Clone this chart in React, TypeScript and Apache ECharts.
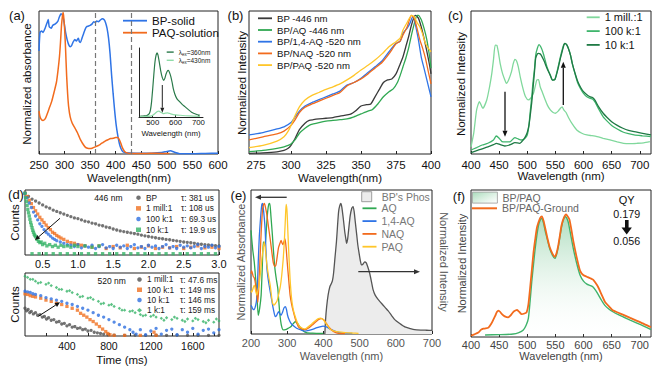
import React, { useEffect, useRef } from "react";
import * as echarts from "echarts";

const FONT = '"Liberation Sans", Arial, Helvetica, sans-serif';

// ---------- (a) absorbance ----------
const aBPsolid = [[250,0.72],[252,0.85],[255,0.86],[258,0.85],[262,0.88],[266,0.92],[268,0.94],[270,0.89],[274,0.88],[277,0.9],[282,0.91],[287,0.93],[290,0.96],[293,0.98],[296,0.97],[299,0.92],[302,0.85],[305,0.8],[308,0.765],[311,0.75],[314,0.76],[317,0.785],[320,0.8],[323,0.79],[325,0.8],[327,0.81],[329,0.785],[331,0.78],[334,0.81],[337,0.84],[340,0.87],[343,0.89],[347,0.895],[350,0.9],[354,0.91],[357,0.925],[360,0.92],[363,0.93],[366,0.925],[370,0.937],[374,0.945],[377,0.94],[380,0.92],[383,0.88],[386,0.81],[389,0.7],[392,0.55],[395,0.42],[398,0.3],[401,0.2],[404,0.13],[407,0.075],[410,0.04],[414,0.016],[420,0.008],[440,0.005],[470,0.006],[490,0.01],[500,0.018],[507,0.022],[515,0.012],[525,0.002],[550,0.001],[575,0.004],[600,0.006]];
const aPAQsol = [[250,0.3],[252,0.26],[255,0.24],[258,0.235],[262,0.245],[266,0.28],[270,0.32],[275,0.37],[280,0.44],[284,0.5],[287,0.58],[290,0.68],[292,0.78],[294,0.9],[296,0.97],[297,0.99],[298,0.97],[300,0.88],[302,0.73],[304,0.55],[306,0.42],[308,0.33],[311,0.26],[315,0.215],[319,0.19],[322,0.17],[325,0.15],[328,0.125],[331,0.1],[335,0.075],[340,0.05],[345,0.04],[350,0.038],[355,0.042],[360,0.05],[365,0.058],[370,0.068],[375,0.08],[380,0.092],[385,0.1],[390,0.108],[395,0.11],[400,0.115],[404,0.115],[407,0.1],[410,0.075],[413,0.045],[417,0.02],[422,0.008],[430,0.003],[460,0.004],[480,0.006],[500,0.004],[505,0.003]];
const aGuideLines = [360, 430];
const aInset360 = [[444,0.01],[460,0.015],[474,0.02],[485,0.05],[490,0.1],[495,0.22],[500,0.41],[505,0.62],[510,0.8],[515,0.9],[519,0.93],[523,0.9],[529,0.79],[535,0.67],[542,0.57],[548,0.53],[553,0.56],[558,0.62],[563,0.66],[568,0.675],[573,0.65],[579,0.59],[585,0.5],[590,0.41],[597,0.33],[605,0.27],[612,0.24],[619,0.22],[630,0.18],[641,0.15],[655,0.11],[670,0.07],[690,0.04],[707,0.025]];
const aInset430 = [[444,0.005],[470,0.008],[490,0.012],[500,0.025],[510,0.05],[520,0.08],[527,0.085],[535,0.07],[545,0.05],[555,0.055],[565,0.06],[575,0.05],[590,0.035],[620,0.025],[660,0.015],[707,0.01]];
const insetTicks = [500, 600, 700];

// ---------- (b) excitation ----------
const bBP = [[270,0.005],[280,0.008],[290,0.015],[295,0.025],[298,0.04],[300,0.06],[303,0.11],[306,0.17],[310,0.215],[313,0.235],[316,0.24],[320,0.245],[325,0.25],[330,0.255],[335,0.265],[340,0.273],[343,0.28],[346,0.3],[350,0.336],[354,0.345],[357,0.35],[360,0.4],[363,0.45],[366,0.5],[369,0.518],[372,0.525],[375,0.56],[378,0.63],[380,0.68],[382,0.75],[384,0.82],[386,0.9],[388,0.96],[389,0.97],[391,0.95],[393,0.89],[395,0.81],[397,0.72],[399,0.62],[400,0.56]];
const bAQ = [[270,0.016],[280,0.025],[290,0.04],[295,0.05],[298,0.06],[300,0.07],[303,0.1],[306,0.145],[310,0.18],[313,0.2],[316,0.21],[320,0.22],[325,0.23],[330,0.235],[335,0.24],[340,0.245],[345,0.26],[350,0.28],[355,0.3],[358,0.31],[362,0.35],[366,0.4],[370,0.436],[373,0.455],[376,0.5],[378,0.55],[380,0.61],[382,0.67],[384,0.74],[386,0.83],[388,0.91],[390,0.97],[391,0.97],[393,0.94],[395,0.88],[397,0.8],[399,0.68],[400,0.6]];
const b14AQ = [[270,0.133],[280,0.15],[290,0.175],[295,0.19],[300,0.22],[303,0.26],[306,0.3],[310,0.336],[315,0.36],[320,0.38],[325,0.4],[330,0.42],[335,0.44],[340,0.483],[345,0.5],[350,0.53],[355,0.57],[360,0.61],[365,0.65],[370,0.715],[375,0.774],[378,0.79],[380,0.845],[383,0.88],[385,0.915],[387,0.96],[388,0.95],[389,0.9],[391,0.8],[393,0.68],[395,0.6],[397,0.52],[399,0.44],[400,0.4]];
const bNAQ = [[270,0.098],[280,0.12],[290,0.14],[295,0.16],[300,0.2],[303,0.24],[306,0.29],[310,0.327],[315,0.35],[320,0.37],[325,0.39],[330,0.41],[335,0.43],[340,0.476],[345,0.5],[350,0.525],[355,0.56],[360,0.6],[365,0.64],[370,0.7],[375,0.77],[378,0.79],[380,0.832],[383,0.89],[386,0.97],[388,0.95],[390,0.88],[392,0.8],[394,0.74],[396,0.67],[398,0.58],[400,0.49]];
const bPAQ = [[270,0.044],[280,0.06],[290,0.09],[295,0.12],[298,0.16],[300,0.2],[303,0.27],[306,0.33],[310,0.378],[315,0.41],[320,0.43],[325,0.452],[330,0.47],[335,0.49],[340,0.518],[345,0.55],[350,0.587],[355,0.62],[360,0.657],[365,0.7],[370,0.75],[375,0.785],[378,0.81],[380,0.867],[383,0.92],[386,0.97],[388,0.96],[390,0.92],[392,0.89],[394,0.84],[396,0.774],[398,0.74],[400,0.715]];
const bTicks = [275, 300, 325, 350, 375, 400];

// ---------- (c) emission vs. ratio ----------
const c1mill = [[400,0.05],[405,0.15],[410,0.308],[415,0.366],[421,0.32],[428,0.378],[433,0.47],[437,0.564],[440,0.66],[443,0.762],[446,0.76],[449,0.704],[452,0.63],[456,0.564],[460,0.52],[463,0.494],[467,0.52],[472,0.576],[475,0.63],[478,0.662],[481,0.65],[484,0.611],[488,0.53],[493,0.448],[497,0.4],[502,0.378],[506,0.39],[511,0.424],[514,0.47],[517,0.517],[520,0.52],[523,0.47],[527,0.43],[532,0.378],[536,0.34],[541,0.308],[546,0.29],[550,0.285],[555,0.3],[559,0.32],[562,0.33],[565,0.308],[569,0.29],[574,0.25],[580,0.21],[588,0.168],[597,0.145],[606,0.133],[615,0.128],[624,0.122],[635,0.11],[647,0.098],[660,0.085],[671,0.075],[683,0.073],[695,0.075],[707,0.078],[718,0.086]];
const c100k = [[400,0.028],[410,0.045],[420,0.063],[430,0.075],[440,0.098],[445,0.126],[450,0.11],[455,0.087],[462,0.085],[470,0.087],[478,0.115],[484,0.105],[490,0.098],[496,0.11],[500,0.133],[503,0.2],[505,0.285],[508,0.4],[510,0.494],[513,0.6],[515,0.692],[518,0.74],[521,0.765],[524,0.75],[528,0.71],[535,0.611],[541,0.55],[545,0.517],[549,0.52],[552,0.56],[555,0.611],[559,0.68],[562,0.727],[565,0.765],[567,0.774],[570,0.765],[573,0.74],[577,0.69],[580,0.634],[585,0.56],[590,0.494],[595,0.455],[600,0.424],[606,0.4],[612,0.389],[616,0.385],[620,0.366],[627,0.315],[635,0.26],[642,0.23],[650,0.2],[660,0.175],[670,0.154],[680,0.142],[690,0.133],[705,0.127],[720,0.122]];
const c10k = [[400,0.009],[415,0.03],[430,0.05],[440,0.065],[445,0.075],[452,0.065],[460,0.056],[470,0.065],[478,0.08],[486,0.075],[495,0.11],[500,0.15],[503,0.2],[505,0.26],[508,0.36],[510,0.448],[513,0.58],[515,0.67],[518,0.7],[520,0.704],[523,0.7],[525,0.69],[530,0.65],[535,0.6],[541,0.55],[545,0.517],[549,0.52],[552,0.555],[555,0.6],[559,0.67],[562,0.715],[565,0.76],[567,0.774],[570,0.765],[573,0.74],[577,0.69],[580,0.634],[585,0.565],[590,0.505],[595,0.465],[600,0.436],[606,0.415],[612,0.4],[616,0.395],[620,0.378],[627,0.33],[635,0.285],[642,0.255],[650,0.226],[660,0.2],[670,0.18],[680,0.165],[690,0.156],[705,0.145],[720,0.133]];
const cfTicks = [400, 450, 500, 550, 600, 650, 700];

// ---------- (d) decays ----------
const d446BP = [[0.25,0.95],[0.3,0.9],[0.35,0.86],[0.4,0.83],[0.45,0.8],[0.5,0.77],[0.55,0.74],[0.6,0.72],[0.65,0.69],[0.7,0.67],[0.75,0.65],[0.8,0.63],[0.85,0.61],[0.9,0.59],[0.95,0.57],[1.0,0.56],[1.05,0.54],[1.1,0.52],[1.15,0.51],[1.2,0.49],[1.25,0.48],[1.3,0.46],[1.35,0.45],[1.4,0.43],[1.45,0.42],[1.5,0.4],[1.55,0.385],[1.6,0.37],[1.65,0.36],[1.7,0.35],[1.75,0.34],[1.8,0.33],[1.85,0.32],[1.9,0.305],[1.95,0.295],[2.0,0.285],[2.05,0.275],[2.1,0.265],[2.15,0.255],[2.2,0.25],[2.25,0.24],[2.3,0.235],[2.35,0.225],[2.4,0.218],[2.45,0.21],[2.5,0.2],[2.55,0.195],[2.6,0.188],[2.65,0.18],[2.7,0.172],[2.75,0.166],[2.8,0.16],[2.85,0.154],[2.9,0.149],[2.95,0.144],[3.0,0.14]];
const d4461mill = [[0.25,0.95],[0.28,0.9],[0.31,0.84],[0.34,0.79],[0.37,0.73],[0.4,0.68],[0.43,0.63],[0.46,0.58],[0.49,0.54],[0.52,0.5],[0.55,0.46],[0.58,0.42],[0.61,0.39],[0.64,0.35],[0.67,0.33],[0.7,0.3],[0.73,0.28],[0.76,0.26],[0.8,0.24],[0.85,0.21],[0.9,0.19],[0.95,0.18],[1.0,0.16],[1.05,0.15],[1.1,0.14],[1.2,0.12],[1.3,0.14],[1.4,0.1],[1.5,0.13],[1.6,0.11],[1.7,0.15],[1.8,0.1],[1.9,0.12],[2.0,0.14],[2.1,0.1],[2.2,0.12],[2.3,0.11],[2.4,0.13],[2.5,0.1],[2.6,0.12],[2.7,0.14],[2.8,0.11],[2.9,0.12],[3.0,0.1]];
const d446100k = [[0.25,0.95],[0.28,0.88],[0.31,0.8],[0.34,0.73],[0.37,0.66],[0.4,0.6],[0.43,0.54],[0.46,0.48],[0.49,0.44],[0.52,0.39],[0.55,0.35],[0.58,0.32],[0.61,0.29],[0.64,0.26],[0.67,0.24],[0.7,0.22],[0.75,0.2],[0.8,0.18],[0.85,0.16],[0.9,0.15],[0.95,0.13],[1.0,0.16],[1.05,0.11],[1.1,0.14],[1.15,0.12],[1.2,0.15],[1.25,0.1],[1.3,0.13],[1.35,0.16],[1.4,0.11],[1.45,0.13],[1.5,0.1],[1.55,0.15],[1.6,0.12],[1.65,0.14],[1.7,0.1],[1.75,0.13],[1.8,0.16],[1.85,0.11],[1.9,0.13],[1.95,0.1],[2.0,0.15],[2.05,0.12],[2.1,0.14],[2.15,0.1],[2.2,0.13],[2.25,0.16],[2.3,0.11],[2.35,0.13],[2.4,0.1],[2.45,0.15],[2.5,0.12],[2.55,0.14],[2.6,0.11],[2.65,0.13],[2.7,0.16],[2.75,0.1],[2.8,0.13],[2.85,0.12],[2.9,0.15],[2.95,0.11],[3.0,0.13]];
const d44610k = [[0.25,0.95],[0.26,0.88],[0.27,0.82],[0.28,0.76],[0.29,0.7],[0.3,0.65],[0.31,0.6],[0.32,0.55],[0.33,0.5],[0.34,0.46],[0.35,0.42],[0.36,0.38],[0.37,0.35],[0.38,0.32],[0.39,0.3],[0.4,0.28],[0.42,0.24],[0.44,0.21],[0.46,0.19],[0.48,0.2],[0.5,0.16],[0.53,0.18],[0.56,0.14],[0.6,0.16],[0.64,0.13],[0.68,0.15],[0.72,0.12],[0.76,0.15],[0.8,0.13],[0.85,0.14],[0.9,0.12],[0.95,0.15],[1.0,0.13],[1.1,0.14],[1.2,0.12],[1.3,0.14],[0.35,0.02],[0.45,0.02],[0.55,0.02],[0.65,0.02],[0.75,0.02],[0.85,0.02],[0.95,0.02],[1.05,0.02],[1.15,0.02],[1.25,0.02],[1.35,0.02],[1.45,0.02],[1.55,0.02],[1.65,0.02],[1.75,0.02],[1.85,0.02],[1.95,0.02],[2.05,0.02],[2.15,0.02],[2.25,0.02],[2.35,0.02],[2.45,0.02],[2.55,0.02],[2.65,0.02],[2.75,0.02],[2.85,0.02],[2.95,0.02]];
const d5201mill = [[0,0.44],[15,0.4],[30,0.42],[45,0.37],[60,0.39],[80,0.35],[100,0.37],[120,0.33],[143,0.34],[165,0.3],[185,0.31],[205,0.27],[225,0.29],[250,0.25],[275,0.26],[300,0.22],[325,0.23],[350,0.19],[375,0.2],[400,0.16],[425,0.18],[450,0.14],[475,0.15],[500,0.12],[525,0.13],[550,0.1],[575,0.11],[600,0.08],[630,0.09],[660,0.06],[690,0.05],[720,0.04],[750,0.03],[790,0.02],[850,0.015],[950,0.01],[1050,0.015],[1150,0.01],[1250,0.012],[1350,0.01],[1450,0.015],[1550,0.01],[1650,0.012],[1750,0.01],[1850,0.01]];
const d520100k = [[0,0.67],[25,0.66],[50,0.64],[75,0.63],[100,0.62],[150,0.6],[200,0.57],[250,0.55],[300,0.52],[350,0.5],[400,0.47],[450,0.44],[500,0.41],[530,0.36],[560,0.33],[590,0.3],[620,0.26],[650,0.23],[680,0.19],[710,0.15],[740,0.11],[770,0.07],[790,0.04],[810,0.02],[850,0.01],[950,0.01],[1100,0.01],[1230,0.06],[1250,0.01]];
const d52010k = [[0,0.71],[25,0.7],[50,0.69],[75,0.67],[100,0.66],[150,0.64],[200,0.61],[250,0.59],[300,0.57],[350,0.55],[400,0.52],[450,0.5],[500,0.47],[550,0.44],[600,0.41],[650,0.37],[700,0.33],[750,0.3],[800,0.26],[850,0.22],[900,0.18],[950,0.14],[1000,0.1],[1030,0.06],[1060,0.03],[1100,0.1],[1150,0.02],[1200,0.08],[1250,0.12],[1300,0.03],[1350,0.09],[1400,0.11],[1450,0.02],[1500,0.1],[1550,0.06],[1600,0.12],[1650,0.03],[1700,0.09],[1750,0.11],[1800,0.05],[1850,0.1]];
const d5201k = [[0,0.95],[25,0.93],[50,0.9],[75,0.9],[100,0.87],[150,0.85],[200,0.82],[250,0.8],[300,0.77],[350,0.74],[400,0.71],[450,0.69],[500,0.66],[550,0.63],[600,0.6],[650,0.58],[700,0.55],[750,0.52],[800,0.49],[850,0.47],[900,0.44],[950,0.41],[1000,0.39],[1050,0.37],[1100,0.34],[1150,0.33],[1200,0.31],[1250,0.3],[1300,0.28],[1350,0.29],[1400,0.26],[1450,0.28],[1500,0.25],[1550,0.27],[1600,0.24],[1650,0.26],[1700,0.23],[1750,0.25],[1800,0.22],[1850,0.24],[125,0.84],[225,0.84],[325,0.74],[425,0.72],[525,0.62],[625,0.61],[725,0.51],[825,0.5],[925,0.41],[1025,0.4],[1125,0.32],[1225,0.33],[1325,0.25],[1425,0.3],[1525,0.23],[1625,0.28],[1725,0.21],[1825,0.27]];
const dTopTicks = [0.5, 1.0, 1.5, 2.0, 2.5, 3.0];
const dBotLabels = [400, 800, 1200, 1600];
const dBotTicks = [200, 400, 600, 800, 1000, 1200, 1400, 1600, 1800];
const dTopTaus = ["τ: 381 us", "τ: 108 us", "τ: 69.3 us", "τ: 19.9 us"];
const dBotTaus = ["τ: 47.6 ms", "τ: 149 ms", "τ: 146 ms", "τ: 159 ms"];

// ---------- (e) absorbance + phosphorescence ----------
const ePhos = [[404,0],[406,0.1],[409,0.19],[413,0.27],[418,0.33],[422,0.35],[425,0.37],[428,0.42],[432,0.53],[436,0.64],[439,0.75],[442,0.85],[445,0.89],[448,0.907],[451,0.88],[455,0.8],[459,0.71],[462,0.66],[464,0.63],[467,0.66],[470,0.73],[474,0.82],[478,0.87],[482,0.885],[485,0.85],[488,0.78],[492,0.69],[495,0.62],[498,0.57],[502,0.51],[505,0.48],[509,0.485],[514,0.5],[518,0.495],[522,0.47],[528,0.42],[533,0.36],[537,0.31],[543,0.27],[551,0.24],[558,0.22],[565,0.2],[572,0.18],[579,0.16],[588,0.13],[597,0.1],[610,0.075],[625,0.05],[640,0.038],[652,0.03],[670,0.027],[685,0.026],[700,0.025]];
const eAQ = [[200,0.72],[202,0.66],[205,0.58],[209,0.5],[213,0.38],[216,0.29],[220,0.13],[224,0.18],[228,0.27],[231,0.45],[234,0.64],[237,0.62],[240,0.64],[243,0.75],[246,0.85],[249,0.9],[252,0.907],[255,0.82],[259,0.69],[262,0.58],[266,0.456],[270,0.38],[274,0.317],[277,0.22],[280,0.13],[284,0.06],[289,0.028],[295,0.03],[303,0.04],[310,0.05],[316,0.07],[322,0.085],[328,0.075],[335,0.05],[343,0.025],[353,0.01],[370,0.006],[400,0.004]];
const e14AQ = [[200,0.2],[202,0.19],[206,0.17],[209,0.17],[213,0.2],[216,0.25],[218,0.35],[220,0.5],[223,0.68],[227,0.826],[230,0.9],[232,0.907],[235,0.85],[239,0.73],[241,0.6],[244,0.456],[247,0.39],[250,0.34],[254,0.28],[258,0.224],[262,0.17],[267,0.12],[271,0.13],[276,0.155],[280,0.14],[283,0.13],[287,0.15],[291,0.18],[295,0.19],[298,0.17],[301,0.13],[305,0.1],[310,0.076],[318,0.055],[326,0.04],[338,0.028],[349,0.02],[360,0.025],[370,0.032],[380,0.042],[390,0.05],[399,0.055],[408,0.05],[415,0.04],[422,0.03],[433,0.018],[445,0.01],[460,0.006],[480,0.004]];
const eNAQ = [[200,0.42],[202,0.44],[206,0.4],[209,0.39],[213,0.34],[216,0.28],[219,0.22],[222,0.35],[225,0.53],[228,0.7],[232,0.87],[235,0.9],[237,0.907],[240,0.88],[244,0.826],[248,0.75],[253,0.66],[258,0.56],[262,0.49],[266,0.47],[269,0.48],[272,0.53],[276,0.6],[280,0.63],[283,0.65],[286,0.63],[288,0.62],[291,0.64],[294,0.66],[297,0.6],[300,0.5],[304,0.38],[308,0.27],[312,0.21],[317,0.155],[323,0.1],[331,0.05],[340,0.035],[349,0.03],[358,0.04],[368,0.06],[377,0.08],[386,0.1],[395,0.107],[402,0.095],[409,0.07],[416,0.045],[422,0.03],[430,0.015],[441,0.005],[460,0.003]];
const ePAQ = [[200,0.3],[202,0.29],[206,0.32],[209,0.34],[213,0.3],[216,0.27],[219,0.3],[222,0.34],[226,0.42],[230,0.52],[234,0.6],[237,0.64],[240,0.58],[244,0.48],[248,0.41],[253,0.34],[259,0.22],[263,0.2],[267,0.21],[272,0.23],[276,0.27],[281,0.33],[285,0.41],[289,0.52],[292,0.64],[295,0.8],[297,0.9],[299,0.87],[300,0.826],[302,0.7],[305,0.53],[308,0.38],[312,0.25],[316,0.18],[321,0.13],[328,0.08],[335,0.05],[342,0.04],[349,0.035],[358,0.05],[368,0.07],[377,0.09],[386,0.107],[393,0.11],[399,0.1],[404,0.085],[411,0.06],[418,0.035],[428,0.022],[441,0.015],[460,0.01],[480,0.007],[497,0.005]];

// ---------- (f) grinding ----------
const fPAQ = [[425,0.014],[450,0.016],[475,0.02],[485,0.03],[493,0.048],[498,0.08],[502,0.127],[505,0.24],[508,0.376],[511,0.49],[514,0.6],[517,0.69],[520,0.76],[523,0.795],[526,0.807],[529,0.775],[532,0.72],[536,0.66],[540,0.6],[545,0.555],[549,0.535],[552,0.56],[555,0.61],[558,0.68],[561,0.75],[564,0.795],[567,0.82],[570,0.81],[573,0.78],[577,0.7],[582,0.6],[588,0.5],[594,0.42],[600,0.38],[606,0.36],[612,0.35],[617,0.34],[621,0.32],[626,0.29],[632,0.25],[638,0.215],[645,0.19],[653,0.17],[662,0.152],[671,0.136],[683,0.115],[695,0.095],[708,0.072],[720,0.05]];
const fGround = [[400,0.01],[406,0.018],[413,0.03],[418,0.05],[422,0.057],[426,0.058],[431,0.064],[436,0.09],[440,0.12],[443,0.143],[446,0.17],[449,0.18],[452,0.17],[455,0.155],[460,0.14],[466,0.133],[470,0.145],[475,0.17],[479,0.18],[482,0.184],[486,0.17],[490,0.155],[495,0.16],[499,0.17],[502,0.22],[505,0.33],[508,0.45],[511,0.57],[514,0.66],[517,0.74],[520,0.78],[523,0.81],[526,0.82],[529,0.79],[532,0.74],[536,0.67],[540,0.61],[545,0.565],[549,0.545],[552,0.57],[555,0.62],[558,0.69],[561,0.76],[565,0.81],[569,0.834],[572,0.82],[575,0.8],[578,0.74],[582,0.65],[588,0.54],[594,0.45],[600,0.42],[606,0.41],[612,0.4],[617,0.39],[621,0.37],[626,0.34],[632,0.29],[638,0.24],[645,0.21],[653,0.18],[662,0.165],[671,0.15],[683,0.13],[695,0.11],[708,0.088],[720,0.066]];
const fQY = ["0.179", "0.056"];

// ---------- labels ----------
const cNames: Record<string, string> = { "c-1mill": "1 mill.:1", "c-100k": "100 k:1", "c-10k": "10 k:1" };
const dNames: Record<string, string> = {
  "d446-BP": "BP", "d446-1mill": "1 mill:1", "d446-100k": "100 k:1", "d446-10k": "10 k:1",
  "d520-1mill": "1 mill:1", "d520-100k": "100 k:1", "d520-10k": "10 k:1", "d520-1k": "1 k:1",
};

const C = {
  blue: "#2f74e6", orange: "#f26b1d", yellow: "#ffc62a", green: "#30a852", black: "#3a3a3a",
  gLight: "#80d89c", gMid: "#3fb56c", gDark: "#1f7a45", inDark: "#2a7a4a", inLight: "#8fdca8",
  dGray: "#505050", dOrange: "#f07020", dBlue: "#2e6fe0", dGreen: "#35b366",
};

function buildOption(): any {
  const grids = [
    { left: 39, top: 11, width: 179, height: 143 },
    { left: 139, top: 48, width: 64, height: 69 },
    { left: 249, top: 11, width: 182, height: 143 },
    { left: 471, top: 11, width: 180, height: 143 },
    { left: 25, top: 190, width: 194, height: 65 },
    { left: 25, top: 273, width: 194, height: 63 },
    { left: 251, top: 190, width: 181, height: 144 },
    { left: 471, top: 190, width: 180, height: 147 },
  ].map((g, i) => ({ ...g, show: i !== 1, borderColor: "#222", borderWidth: 1, backgroundColor: "transparent", containLabel: false, outerBoundsMode: "none" }));

  const xa = (i: number, min: number, max: number, o: any) => ({
    type: "value", gridIndex: i, min, max,
    axisLine: { show: i === 1, lineStyle: { color: "#222", width: 1 } },
    axisTick: { show: true, inside: true, length: 3, lineStyle: { color: "#222" }, ...(o.tick || {}) },
    axisLabel: { fontSize: 11.5, color: "#111", fontFamily: FONT, margin: 5, ...(o.label || {}) },
    splitLine: { show: false },
    ...(o.extra || {}),
  });
  const xAxis = [
    xa(0, 250, 600, { extra: { interval: 50 } }),
    xa(1, 440, 720, { label: { fontSize: 7.8, margin: 1, customValues: insetTicks }, tick: { length: 2, customValues: insetTicks } }),
    xa(2, 270, 400, { label: { customValues: bTicks }, tick: { customValues: bTicks } }),
    xa(3, 400, 720, { label: { customValues: cfTicks }, tick: { customValues: cfTicks } }),
    xa(4, 0.25, 3.0, { label: { fontSize: 11, margin: 3, customValues: dTopTicks, formatter: (v: number) => v.toFixed(1) }, tick: { customValues: dTopTicks } }),
    xa(5, 0, 1850, { label: { fontSize: 10.5, margin: 4, customValues: dBotLabels, formatter: (v: number) => String(v) }, tick: { customValues: dBotTicks } }),
    xa(6, 200, 700, { label: { fontSize: 11, margin: 3.5, color: "#555" }, extra: { interval: 100 } }),
    xa(7, 400, 720, { label: { fontSize: 11, margin: 2.5, color: "#444", customValues: cfTicks }, tick: { customValues: cfTicks } }),
  ];
  const yAxis = grids.map((_, i) => ({
    type: "value", gridIndex: i, min: 0, max: 1,
    axisLabel: { show: false }, axisTick: { show: false },
    axisLine: { show: i === 1, lineStyle: { color: "#222", width: 1 } },
    splitLine: { show: false },
  }));

  const line = (name: string, data: number[][], i: number, color: string, width = 1.3, extra: any = {}) => ({
    type: "line", name, data, xAxisIndex: i, yAxisIndex: i, symbol: "none", smooth: 0.2,
    lineStyle: { color, width }, itemStyle: { color }, silent: true, ...extra,
  });
  const scat = (name: string, data: number[][], i: number, color: string, symbol: string) => ({
    type: "scatter", name, data, xAxisIndex: i, yAxisIndex: i, symbol, symbolSize: 3.3,
    itemStyle: { color }, silent: true,
  });

  const fGrad = new echarts.graphic.LinearGradient(0, 0, 0, 1, [
    { offset: 0, color: "rgba(96,188,128,0.5)" },
    { offset: 1, color: "rgba(255,255,255,0.05)" },
  ]);
  const fLegGrad = new echarts.graphic.LinearGradient(0, 0, 1, 1, [
    { offset: 0, color: "rgba(96,188,128,0.55)" },
    { offset: 1, color: "rgba(255,255,255,0.4)" },
  ]);

  const series = [
    line("BP-solid", aBPsolid, 0, C.blue, 1.5, {
      markLine: {
        silent: true, symbol: ["none", "none"], label: { show: false },
        lineStyle: { type: [5, 3], color: "#777", width: 1.2 },
        data: aGuideLines.map((v) => ({ xAxis: v })),
      },
    }),
    line("PAQ-solution", aPAQsol, 0, C.orange, 1.5),
    line("inset360", aInset360, 1, C.inDark, 1.2),
    line("inset430", aInset430, 1, C.inLight, 1.2),
    line("BP -446 nm", bBP, 2, C.black),
    line("BP/AQ -446 nm", bAQ, 2, C.green),
    line("BP/1,4-AQ -520 nm", b14AQ, 2, C.blue),
    line("BP/NAQ -520 nm", bNAQ, 2, C.orange),
    line("BP/PAQ -520 nm", bPAQ, 2, C.yellow),
    line("c-1mill", c1mill, 3, C.gLight, 1.3),
    line("c-100k", c100k, 3, C.gMid, 1.3),
    line("c-10k", c10k, 3, C.gDark, 1.3),
    scat("d446-BP", d446BP, 4, C.dGray, "circle"),
    scat("d446-1mill", d4461mill, 4, C.dOrange, "rect"),
    scat("d446-100k", d446100k, 4, C.dBlue, "circle"),
    scat("d446-10k", d44610k, 4, C.dGreen, "rect"),
    scat("d520-1mill", d5201mill, 5, C.dGray, "circle"),
    scat("d520-100k", d520100k, 5, C.dOrange, "rect"),
    scat("d520-10k", d52010k, 5, C.dBlue, "circle"),
    scat("d520-1k", d5201k, 5, C.dGreen, "diamond"),
    line("BP's Phos", ePhos, 6, "#555", 1.3, { areaStyle: { color: "#ececec", opacity: 1 } }),
    line("AQ", eAQ, 6, C.green),
    line("1,4-AQ", e14AQ, 6, C.blue),
    line("NAQ", eNAQ, 6, C.orange),
    line("PAQ", ePAQ, 6, C.yellow),
    line("BP/PAQ", fPAQ, 7, "#3fb36b", 1.4, { areaStyle: { color: fGrad, opacity: 1 } }),
    line("BP/PAQ-Ground", fGround, 7, C.orange, 1.8),
  ];

  const leg = (data: any[], left: number, top: number, itemWidth: number, fontSize: number, lineHeight: number, extra: any = {}) => ({
    data, left, top, orient: "vertical", itemWidth, itemHeight: 1.8, icon: "rect", itemGap: 0, padding: 0,
    selectedMode: false,
    textStyle: { fontSize, lineHeight, color: "#111", fontFamily: FONT },
    ...extra,
  });
  const legend = [
    leg(["BP-solid", "PAQ-solution"], 123, 14.7, 24, 11.5, 12),
    leg(["inset360", "inset430"], 166.7, 48.6, 7, 6.5, 9.4, {
      itemHeight: 1.4,
      formatter: (n: string) => `{a|λ}{s|ex}{a|=${n === "inset360" ? "360" : "430"}nm}`,
      textStyle: {
        fontSize: 6.5, color: "#222", fontFamily: FONT,
        rich: { a: { fontSize: 6.5, fontFamily: FONT, color: "#222", lineHeight: 9.4 }, s: { fontSize: 4.5, fontFamily: FONT, color: "#222", verticalAlign: "bottom", lineHeight: 9.4 } },
      },
    }),
    leg(["BP -446 nm", "BP/AQ -446 nm", "BP/1,4-AQ -520 nm", "BP/NAQ -520 nm", "BP/PAQ -520 nm"], 258, 12.45, 14, 9.6, 11.7),
    leg(["c-1mill", "c-100k", "c-10k"], 586.7, 10.4, 13, 11, 13.8, { formatter: (n: string) => cNames[n] }),
    leg(["d446-BP", "d446-1mill", "d446-100k", "d446-10k"], 136, 192.3, 5, 8.3, 10.7, {
      icon: undefined, itemHeight: 4.5, formatter: (n: string) => dNames[n],
      textStyle: { fontSize: 8.3, lineHeight: 10.7, color: "#222", fontFamily: FONT },
    }),
    leg(["d520-1mill", "d520-100k", "d520-10k", "d520-1k"], 137, 274.3, 5, 8.3, 10.3, {
      icon: undefined, itemHeight: 4.5, formatter: (n: string) => dNames[n],
      textStyle: { fontSize: 8.3, lineHeight: 10.3, color: "#222", fontFamily: FONT },
    }),
    leg(["AQ", "1,4-AQ", "NAQ", "PAQ"], 362.5, 201.9, 14, 10.5, 12.8, { textStyle: { fontSize: 10.5, lineHeight: 12.8, color: "#777", fontFamily: FONT } }),
    leg([{ name: "BP/PAQ", icon: "rect", itemStyle: { color: fLegGrad, borderColor: "#999", borderWidth: 0.8 } }], 472, 191.7, 25, 10.5, 11, {
      itemHeight: 11, textStyle: { fontSize: 10.5, lineHeight: 11, color: "#666", fontFamily: FONT },
    }),
    leg(["BP/PAQ-Ground"], 472, 202.5, 25, 10.5, 11.6, { itemHeight: 2, textStyle: { fontSize: 10.5, lineHeight: 11.6, color: "#666", fontFamily: FONT } }),
  ];

  const txt = (text: string, x: number, y: number, size: number, o: any = {}) => ({
    type: "text", x, y, rotation: o.rot || 0, z: 100, silent: true,
    style: { text, fontSize: size, fontFamily: FONT, fill: o.color || "#111", align: o.align || "center", verticalAlign: "middle", fontWeight: o.weight || "normal" },
  });
  const arrow = (x1: number, y1: number, x2: number, y2: number, color: string, w: number, hl: number, hw: number) => {
    const ang = Math.atan2(y2 - y1, x2 - x1);
    const bx = x2 - hl * Math.cos(ang), by = y2 - hl * Math.sin(ang);
    const px = (-Math.sin(ang) * hw) / 2, py = (Math.cos(ang) * hw) / 2;
    return [
      { type: "line", z: 100, silent: true, shape: { x1, y1, x2: bx, y2: by }, style: { stroke: color, lineWidth: w } },
      { type: "polygon", z: 100, silent: true, shape: { points: [[x2, y2], [bx + px, by + py], [bx - px, by - py]] }, style: { fill: color } },
    ];
  };
  const R = Math.PI / 2;
  const elements: any[] = [
    txt("(a)", 17, 15.5, 13), txt("(b)", 235.5, 15, 13), txt("(c)", 455.5, 15, 13),
    txt("(d)", 16, 194, 13), txt("(e)", 238.5, 195.5, 13), txt("(f)", 459, 196.5, 13),
    txt("Normalized absorbance", 26.5, 84, 11.5, { rot: R }),
    txt("Wavelength(nm)", 129, 177.5, 11.5),
    txt("Wavelength (nm)", 171, 133, 7.8),
    txt("Normalized Intensity", 241.5, 83, 11.5, { rot: R }),
    txt("Wavelength(nm)", 340, 177.5, 11.5),
    txt("Normalized Intensity", 460.5, 84, 11.5, { rot: R }),
    txt("Wavelength (nm)", 561, 176, 11.5),
    txt("Counts", 15, 222.5, 11.5, { rot: R }),
    txt("Counts", 15, 304.5, 11.5, { rot: R }),
    txt("Time (ms)", 122, 359.5, 11.5),
    txt("446 nm", 108.3, 197.7, 8.5),
    txt("520 nm", 111.7, 281.3, 8.5),
    ...dTopTaus.map((t, k) => txt(t, 181, 197.7 + k * 10.7, 8.3, { align: "left", color: "#222" })),
    ...dBotTaus.map((t, k) => txt(t, 180, 279.5 + k * 10.3, 8.3, { align: "left", color: "#222" })),
    txt("Normalized Absorbance", 240.5, 262, 11, { rot: R, color: "#555" }),
    txt("Normalized Intensity", 444, 262, 11, { rot: -R, color: "#555" }),
    txt("Wavelength (nm)", 341.5, 356, 11, { color: "#555" }),
    txt("BP's Phos", 381.7, 197, 10.5, { align: "left", color: "#777" }),
    { type: "rect", z: 100, silent: true, shape: { x: 361.7, y: 191.7, width: 10, height: 10 }, style: { fill: "#ececec", stroke: "#888", lineWidth: 0.8 } },
    txt("Normalized Intensity", 461.5, 263.5, 11, { rot: R, color: "#444" }),
    txt("Wavelength (nm)", 561, 356, 11, { color: "#444" }),
    txt("QY", 626.7, 200, 11),
    txt(fQY[0], 626.7, 214.3, 10.7),
    txt(fQY[1], 626.7, 241.3, 10.7),
    { type: "rect", z: 100, silent: true, shape: { x: 625, y: 220, width: 3.6, height: 8 }, style: { fill: "#111" } },
    { type: "polygon", z: 100, silent: true, shape: { points: [[621.5, 227.5], [631.9, 227.5], [626.7, 234.5]] }, style: { fill: "#111" } },
    ...arrow(162.3, 85, 162.3, 112.7, "#222", 1, 5, 4),
    ...arrow(505, 91.7, 505, 136.7, "#111", 1.3, 6, 5),
    ...arrow(563.3, 105, 563.3, 61.7, "#111", 1.3, 6, 5),
    ...arrow(60, 218.3, 35, 240, "#111", 1, 5, 4.5),
    ...arrow(38.3, 316.3, 60, 302.3, "#111", 1, 5, 4.5),
    ...arrow(286.7, 197.3, 255, 197.3, "#333", 1.3, 6, 5),
    ...arrow(358.3, 271.7, 420, 271.7, "#333", 1.3, 6, 5),
  ];

  return {
    animation: false,
    backgroundColor: "#fff",
    textStyle: { fontFamily: FONT },
    grid: grids,
    xAxis,
    yAxis,
    legend,
    series,
    graphic: { elements },
  };
}

export default function App() {
  const ref = useRef<HTMLDivElement>(null);
  useEffect(() => {
    if (!ref.current) return;
    const chart = echarts.init(ref.current, null, { renderer: "svg" });
    chart.setOption(buildOption());
    return () => chart.dispose();
  }, []);
  return (
    <div
      ref={ref}
      style={{ position: "fixed", left: 0, top: 0, width: 658, height: 370, background: "#fff" }}
    />
  );
}
